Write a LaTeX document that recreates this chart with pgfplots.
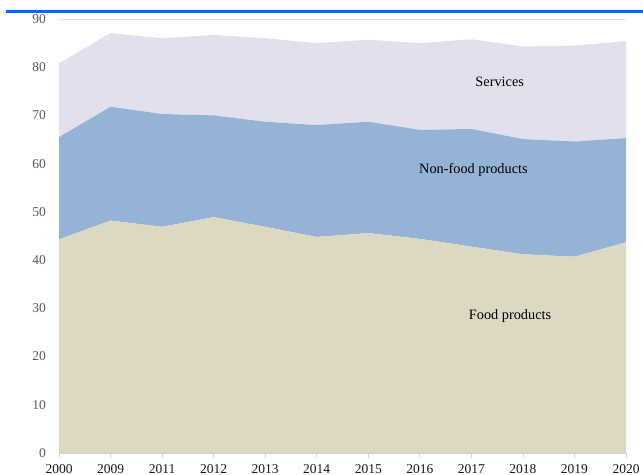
\documentclass[border=0pt]{standalone}
\usepackage{pgfplots}
\pgfplotsset{compat=1.18}
\usepackage{fontspec}
\setmainfont{Liberation Serif}

\definecolor{foodc}{RGB}{221,216,194}
\definecolor{nonfoodc}{RGB}{149,179,215}
\definecolor{servc}{RGB}{228,223,236}
\definecolor{gridc}{RGB}{222,222,222}
\definecolor{axisc}{RGB}{210,210,210}
\definecolor{ylabc}{RGB}{89,89,89}
\definecolor{topblue}{RGB}{0,102,255}

\begin{document}
\begin{tikzpicture}
\begin{axis}[
    scale only axis,
    width=567bp, height=434bp,
    xmin=0, xmax=11,
    ymin=0, ymax=90,
    xtick={0,...,11},
    xticklabels={2000,2009,2011,2012,2013,2014,2015,2016,2017,2018,2019,2020},
    ytick={0,10,...,90},
    stack plots=y,
    ymajorgrids=true,
    grid style={draw=gridc, line width=0.8bp},
    axis x line*=bottom,
    axis y line*=left,
    axis line style={-},
    x axis line style={draw=axisc, line width=0.8bp},
    y axis line style={draw=none},
    tick align=outside,
    major tick length=5bp,
    xtick style={draw=axisc, line width=0.8bp},
    ytick style={draw=none},
    xticklabel style={font=\fontsize{13.5bp}{16bp}\selectfont, text=black!90, inner sep=0pt, anchor=north},
    yticklabel style={font=\fontsize{13.5bp}{16bp}\selectfont, text=ylabc, inner sep=0pt, anchor=east},
    xticklabel shift=6bp,
    yticklabel shift=8bp,
    /pgf/number format/assume math mode=true,
]
% food products
\addplot[fill=foodc, draw=none] coordinates {
    (0,44.3)(1,48.2)(2,46.9)(3,48.9)(4,46.9)(5,44.8)(6,45.6)(7,44.4)(8,42.8)(9,41.2)(10,40.7)(11,43.7)
} \closedcycle;
% non-food products
\addplot[fill=nonfoodc, draw=none] coordinates {
    (0,21.2)(1,23.6)(2,23.4)(3,21.1)(4,21.8)(5,23.2)(6,23.1)(7,22.6)(8,24.4)(9,23.9)(10,23.9)(11,21.6)
} \closedcycle;
% services
\addplot[fill=servc, draw=none] coordinates {
    (0,15.3)(1,15.3)(2,15.7)(3,16.7)(4,17.3)(5,17.0)(6,17.0)(7,18.0)(8,18.6)(9,19.2)(10,19.9)(11,20.1)
} \closedcycle;

\coordinate (servlab) at (axis cs:8.55,77);
\coordinate (nonfoodlab) at (axis cs:8.04,58.6);
\coordinate (foodlab) at (axis cs:8.75,28.3);
\end{axis}
\node[font=\fontsize{14.3bp}{17bp}\selectfont, text=black] at (servlab) {Services};
\node[font=\fontsize{14.3bp}{17bp}\selectfont, text=black] at (nonfoodlab) {Non-food products};
\node[font=\fontsize{14.3bp}{17bp}\selectfont, text=black] at (foodlab) {Food products};
\draw[topblue, line width=2.7bp] (-53bp,441.5bp) -- (584bp,441.5bp);
\pgfresetboundingbox
\path[use as bounding box] (-59bp,-22bp) rectangle (584bp,453bp);
\end{tikzpicture}
\end{document}
